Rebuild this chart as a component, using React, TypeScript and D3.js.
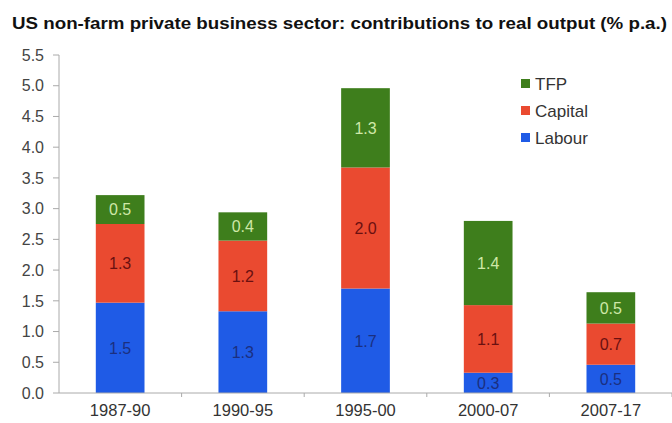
import React from "react";
import * as d3 from "d3";

const categories = ["1987-90", "1990-95", "1995-00", "2000-07", "2007-17"];
const labour = [1.47, 1.33, 1.7, 0.33, 0.46];
const capital = [1.28, 1.15, 1.97, 1.1, 0.67];
const tfp = [0.47, 0.46, 1.29, 1.37, 0.51];
const labourLabels = ["1.5", "1.3", "1.7", "0.3", "0.5"];
const capitalLabels = ["1.3", "1.2", "2.0", "1.1", "0.7"];
const tfpLabels = ["0.5", "0.4", "1.3", "1.4", "0.5"];
const yTicks = [0, 0.5, 1, 1.5, 2, 2.5, 3, 3.5, 4, 4.5, 5, 5.5];
const seriesNames = ["Labour", "Capital", "TFP"];
const title = "US non-farm private business sector: contributions to real output (% p.a.)";

const W = 672, H = 423;
const left = 59, right = 672, top = 55, bottom = 393;

const colors: Record<string, string> = { Labour: "#1f5be6", Capital: "#ea4a30", TFP: "#3e7e1c" };
const labelColors: Record<string, string> = { Labour: "#1b2f80", Capital: "#6a1010", TFP: "#cfe8a8" };

export default function App() {
  const x = d3.scaleBand<string>().domain(categories).range([left, right]).paddingInner(0.603).paddingOuter(0.3);
  const y = d3.scaleLinear().domain([0, 5.5]).range([bottom, top]);
  const rows = categories.map((c, i) => ({ cat: c, Labour: labour[i], Capital: capital[i], TFP: tfp[i] }));
  const stack = d3.stack<any>().keys(seriesNames)(rows);
  const labels: Record<string, string[]> = { Labour: labourLabels, Capital: capitalLabels, TFP: tfpLabels };
  const band = (right - left) / categories.length;
  const font = "Liberation Sans, Arial, sans-serif";

  return (
    <svg width={W} height={H} style={{ position: "absolute", left: 0, top: 0, background: "#fff" }} fontFamily={font}>
      <rect width={W} height={H} fill="#fff" />
      <text x={12} y={28.5} fontSize={16.5} fontWeight="bold" fill="#111" textLength={655} lengthAdjust="spacingAndGlyphs">{title}</text>
      {/* y axis */}
      <line x1={left} x2={left} y1={top} y2={bottom} stroke="#aaa" />
      {yTicks.map((t) => (
        <g key={t}>
          <line x1={left - 6} x2={left} y1={y(t)} y2={y(t)} stroke="#aaa" />
          <text x={44} y={y(t)} dy="0.36em" textAnchor="end" fontSize={16} fill="#444">{t.toFixed(1)}</text>
        </g>
      ))}
      {/* bars */}
      {stack.map((s) => (
        <g key={s.key}>
          {s.map((d, i) => (
            <g key={i}>
              <rect x={x(categories[i])} width={x.bandwidth()} y={y(d[1])} height={y(d[0]) - y(d[1])} fill={colors[s.key]} />
              <text x={(x(categories[i]) as number) + x.bandwidth() / 2} y={(y(d[0]) + y(d[1])) / 2} dy="0.36em" textAnchor="middle" fontSize={16} fill={labelColors[s.key]}>{labels[s.key][i]}</text>
            </g>
          ))}
        </g>
      ))}
      {/* x axis */}
      <line x1={left} x2={right} y1={bottom} y2={bottom} stroke="#aaa" />
      {categories.map((c, i) => (
        <g key={c}>
          <line x1={left + band * (i + 1)} x2={left + band * (i + 1)} y1={bottom} y2={bottom + 4} stroke="#aaa" />
          <text x={(x(c) as number) + x.bandwidth() / 2} y={416} textAnchor="middle" fontSize={16.5} fill="#333">{c}</text>
        </g>
      ))}
      {/* legend */}
      {["TFP", "Capital", "Labour"].map((k, i) => (
        <g key={k}>
          <rect x={521} y={79 + i * 27} width={9} height={9} fill={colors[k]} />
          <text x={535} y={83.5 + i * 27} dy="0.36em" fontSize={17} fill="#333">{k}</text>
        </g>
      ))}
    </svg>
  );
}
